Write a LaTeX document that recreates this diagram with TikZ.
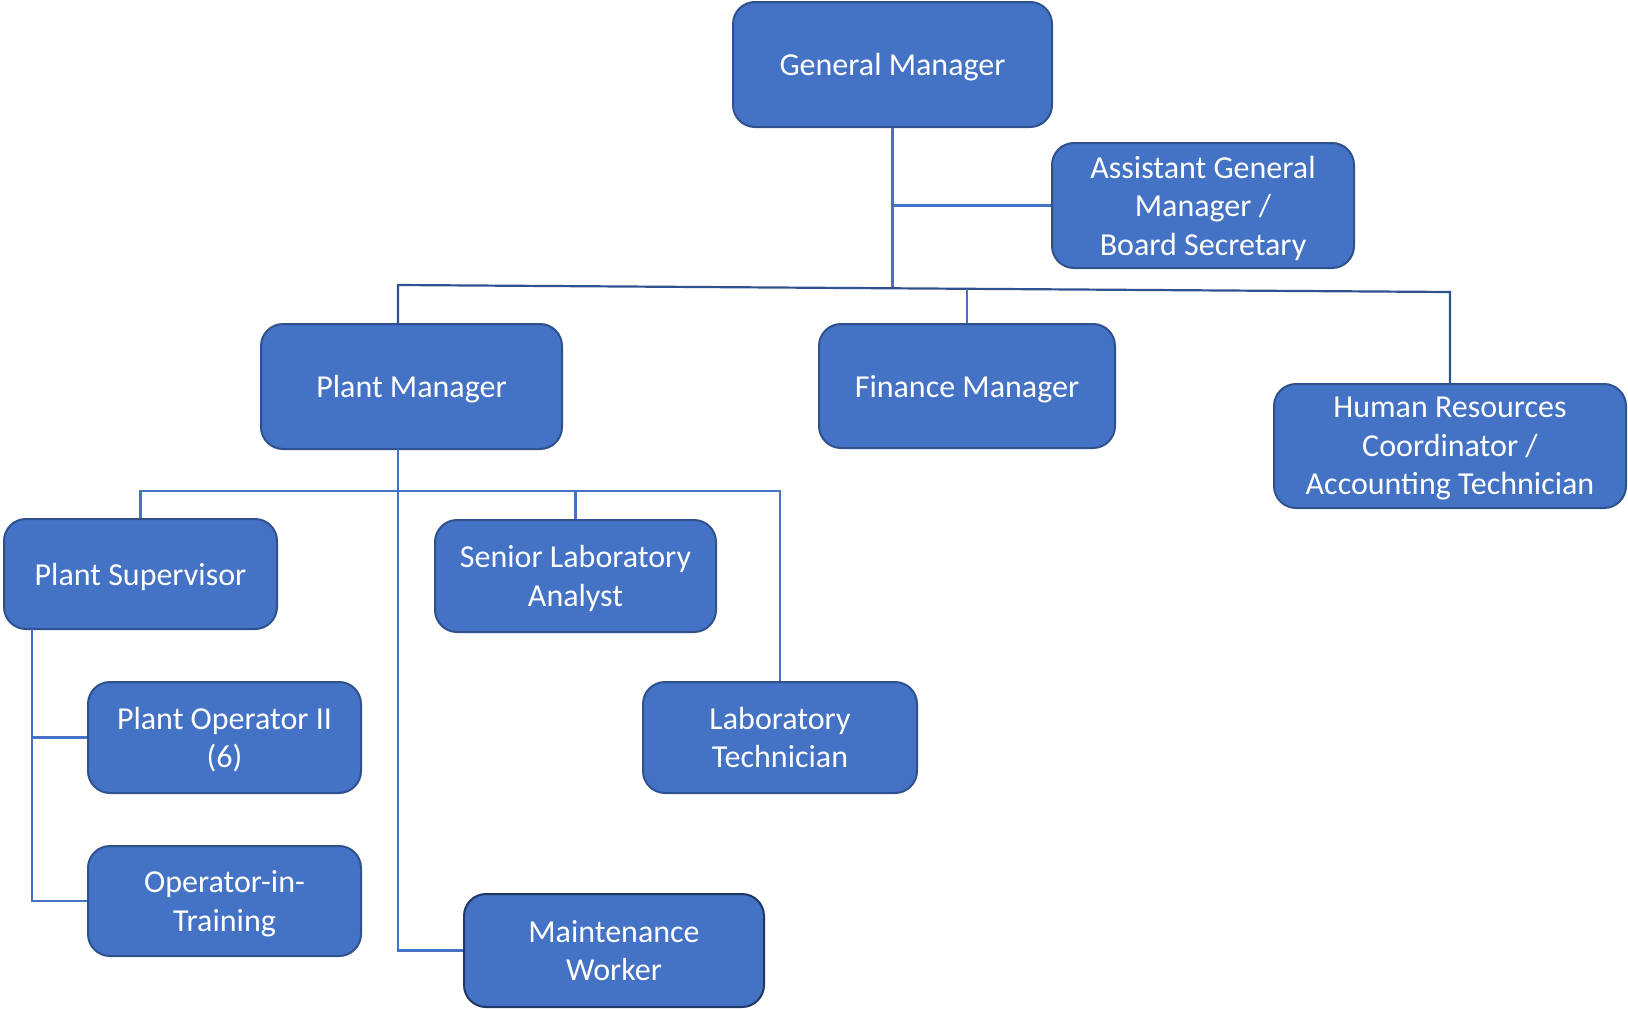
\documentclass[tikz,border=0pt]{standalone}
\usepackage{fontspec}
\setmainfont{Carlito}
\usepackage{xcolor}
\usepackage{tikz}
\usetikzlibrary{positioning}
\definecolor{orgfill}{HTML}{4472C4}
\definecolor{orgedge}{HTML}{2F528F}
\definecolor{orgdark}{HTML}{1F3864}

\begin{document}
\begin{tikzpicture}[
    x=1pt, y=-1pt,
    font=\fontsize{32}{38.5}\selectfont,
    box/.style={draw=orgedge, line width=2pt, fill=orgfill, text=white,
                rounded corners=22pt, align=center, inner sep=0pt, text depth=0pt},
    link/.style={draw=orgfill, line width=2.2pt},
  ]
    \useasboundingbox (0,0) rectangle (1628,1009);

    % top level
    \node[box, minimum width=319pt, minimum height=125pt] (gm)  at (892.5,64.5) {General Manager};
    \node[box, minimum width=302pt, minimum height=125pt] (agm) at (1203,205.5)
       {Assistant General\\Manager /\\ Board Secretary};

    % managers
    \node[box, minimum width=301pt, minimum height=125pt] (pm) at (411.5,386.5) {Plant Manager};
    \node[box, minimum width=296pt, minimum height=124pt] (fm) at (967,386) {Finance Manager};
    \node[box, minimum width=352pt, minimum height=124pt] (hr) at (1450,446)
       {Human Resources\\Coordinator /\\Accounting Technician};

    % plant staff
    \node[box, minimum width=273pt, minimum height=110pt] (ps)  at (140.5,574) {Plant Supervisor};
    \node[box, minimum width=281pt, minimum height=112pt] (sla) at (575.5,576) {Senior Laboratory\\Analyst};
    \node[box, minimum width=273pt, minimum height=111pt] (po)  at (224.5,737.5) {Plant Operator II\\(6)};
    \node[box, minimum width=274pt, minimum height=111pt] (lt)  at (780,737.5) {Laboratory\\Technician};
    \node[box, minimum width=273pt, minimum height=110pt] (oit) at (224.5,901) {Operator-in-\\Training};
    \node[box, draw=orgdark, minimum width=300pt, minimum height=113pt] (mw) at (614,950.5)
       {Maintenance\\Worker};

    % tap points (the top bar runs a little downhill)
    \coordinate (barL)   at (398,285);
    \coordinate (barR)   at (1450,292);
    \coordinate (barG)   at (0,288.3);
    \coordinate (barF)   at (0,289);
    \coordinate (bar2)   at (0,491);
    \coordinate (pmtap)  at (398,324);
    \coordinate (pmdrop) at (398,449);
    \coordinate (psdrop) at (32,629);

    \draw[link] (gm.south) -- (gm.south |- barG);
    \draw[link] (agm.west) -| (gm.south);
    \draw[link, draw=orgedge] (pmtap) -- (barL) -- (barR) -- (hr.north);
    \draw[link] (fm.north |- barF) -- (fm.north);

    \draw[link] (pmdrop) |- (mw.west);
    \draw[link] (ps.north) -- (ps.north |- bar2) -- (lt.north |- bar2) -- (lt.north);
    \draw[link] (sla.north |- bar2) -- (sla.north);

    \draw[link] (psdrop) |- (oit.west);
    \draw[link] (psdrop |- po.west) -- (po.west);
  \end{tikzpicture}
\end{document}
